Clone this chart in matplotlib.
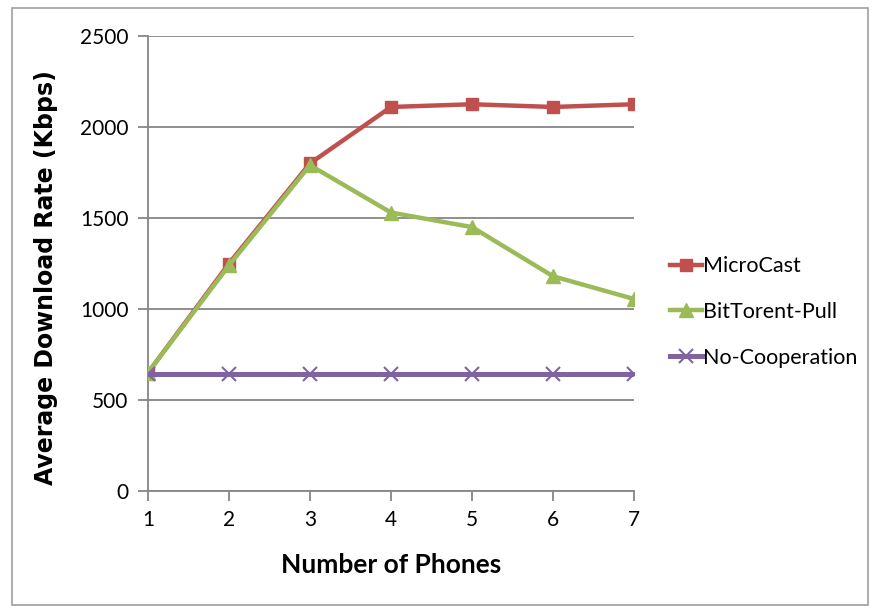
import matplotlib.pyplot as plt
from matplotlib.patches import Rectangle

plt.rcParams['font.family'] = ['Lato', 'DejaVu Sans']

phones = [1, 2, 3, 4, 5, 6, 7]
microcast = [650, 1250, 1800, 2110, 2125, 2110, 2125]
bittorrent = [650, 1240, 1790, 1530, 1450, 1180, 1055]
no_coop = [645, 645, 645, 645, 645, 645, 645]

fig = plt.figure(figsize=(8.8, 6.15), dpi=100)
ax = fig.add_axes([148 / 880, 1 - 491 / 615, (634 - 148) / 880, (491 - 36) / 615])

# outer chart border
fig.patches.append(Rectangle((12 / 880, 1 - 605 / 615), 856 / 880, 597 / 615,
                             transform=fig.transFigure, fill=False,
                             edgecolor='#a0a0a0', linewidth=1.2))

ax.plot(phones, microcast, color='#C0504D', lw=3.2, marker='s', ms=9,
        label='MicroCast', zorder=3)
ax.plot(phones, bittorrent, color='#9BBB59', lw=3.2, marker='^', ms=10,
        label='BitTorent-Pull', zorder=4)
ax.plot(phones, no_coop, color='#8064A2', lw=3.6, marker='x', ms=10, mew=1.5,
        label='No-Cooperation', zorder=5)

ax.set_xlim(1, 7)
ax.set_ylim(0, 2500)
ax.set_xticks(phones)
ax.set_yticks(range(0, 2501, 500))
ax.yaxis.grid(True, color='#868686', lw=1.3)
ax.set_axisbelow(True)
for side in ['top', 'right']:
    ax.spines[side].set_visible(False)
for side in ['left', 'bottom']:
    ax.spines[side].set_color('#868686')
    ax.spines[side].set_linewidth(1.3)
ax.tick_params(axis='both', color='#868686', width=1.3, length=7,
               labelsize=15, pad=7)

ax.set_xlabel('Number of Phones', fontsize=19, fontweight='bold', labelpad=16)
ax.set_ylabel('Average Download Rate (Kbps)', fontsize=17, fontweight='bold',
              family='DejaVu Sans')
ax.yaxis.set_label_coords(-0.185, 0.47)

ax.legend(loc='center left', bbox_to_anchor=(670 / 880, 1 - 312 / 615),
          bbox_transform=fig.transFigure, borderpad=0, borderaxespad=0,
          frameon=False, fontsize=15.5, handlelength=1.5, handletextpad=0.05,
          labelspacing=1.2)

fig.savefig('out.png', dpi=100)
